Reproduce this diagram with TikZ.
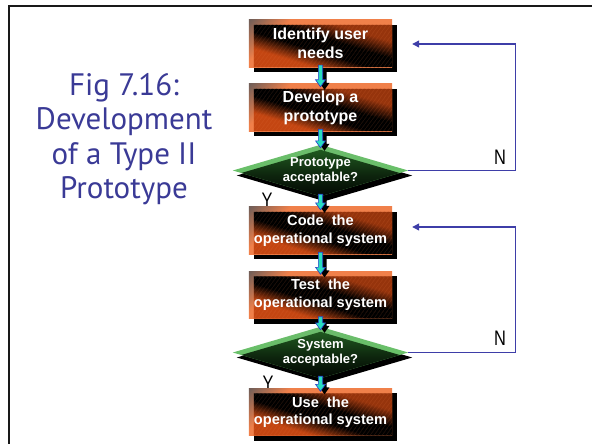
\documentclass[tikz,border=0pt]{standalone}
\usepackage{fontspec}
\setmainfont{Liberation Sans}
\newfontfamily\titlefont{PT Sans}
\usetikzlibrary{calc,arrows.meta,shapes.geometric,backgrounds}

\definecolor{edgeorange}{RGB}{240,128,74}
\definecolor{edgegrey}{RGB}{115,95,88}
\definecolor{faceorangeA}{RGB}{150,52,12}
\definecolor{faceorangeB}{RGB}{196,70,18}
\definecolor{edgegreen}{RGB}{105,192,105}
\definecolor{greengrey}{RGB}{130,140,128}
\definecolor{facegreen}{RGB}{32,90,32}
\definecolor{loopblue}{RGB}{62,62,168}
\definecolor{titleblue}{RGB}{58,58,150}
\definecolor{arrowcyan}{RGB}{40,222,192}
\definecolor{arrowblue}{RGB}{40,60,200}
\definecolor{framegrey}{RGB}{25,25,25}

% light rim that turns greyish toward the top left corner
\pgfdeclareverticalshading{rimdiag}{100bp}{%
  color(0bp)=(edgeorange); color(70bp)=(edgeorange);
  color(85bp)=(edgegrey); color(100bp)=(edgegrey)}

% narrow upright letters for the Y / N labels
\newcommand\narrowtxt[1]{\scalebox{0.78}[1]{#1}}

% 3-D look of a process box: drop shadow, light rim, and a face built from
% thin strips parallel to its diagonal (black along the diagonal, orange off it)
\newcommand\boxdeco[1]{%
  \fill[black] ($(#1.north west)+(5,5)$) rectangle ($(#1.south east)+(5,5)$);
  \shade[shading=rimdiag, shading angle=45] (#1.north west) rectangle (#1.south east);
  \begin{scope}
    \clip ($(#1.north west)+(5,5)$) rectangle (#1.south east);
    \path ($(#1.north west)+(5,5)$) coordinate (ftl) (#1.south east) coordinate (fbr);
    \foreach \k in {-150,-146,...,150} {
      \pgfmathtruncatemacro\mixpct{min(100,max(0,(abs(\k)-25)*100/55))}
      \ifnum\k<0 \def\bandcol{faceorangeB}\else\def\bandcol{faceorangeA}\fi
      \fill[fill=\bandcol!\mixpct!black] ($(ftl)+(\k,0)$) -- ($(fbr)+(\k,0)$)
        -- ($(fbr)+(\k+4.6,0)$) -- ($(ftl)+(\k+4.6,0)$) -- cycle;
    }
  \end{scope}
}
% the same look for a decision diamond
\newcommand\decisiondeco[1]{%
  \fill[black] ($(#1.west)+(4,5)$) -- ($(#1.north)+(4,5)$) -- ($(#1.east)+(4,5)$) -- ($(#1.south)+(4,5)$) -- cycle;
  \begin{scope}
    \clip (#1.west) -- (#1.north) -- (#1.east) -- (#1.south) -- cycle;
    \shade[shift={(#1.center)}, rotate=45,
      top color=greengrey, bottom color=edgegreen, middle color=edgegreen]
      (-200,-200) rectangle (200,200);
    \clip ($(#1.west)+(0,5)$) -- ($(#1.north)+(0,5)$) -- ($(#1.east)+(0,5)$) -- ($(#1.south)+(0,5)$) -- cycle;
    \shade[shift={($(#1.center)+(0,5)$)},
      top color=facegreen, bottom color=black, middle color=black!60!facegreen]
      (-90,-26) rectangle (90,26);
  \end{scope}
}

% small cyan step arrow from the bottom of one shape to the top of the next
\newcommand\stepoutline{($(fs)+(-2.2,0)$) -- ($(fh)+(-2.2,0)$) -- ($(fh)+(-5,0)$) -- (fe)
  -- ($(fh)+(5,0)$) -- ($(fh)+(2.2,0)$) -- ($(fs)+(2.2,0)$) -- cycle}
\newcommand\flowstep[2]{%
  \path (#1.south) ++(0,-2) coordinate (fs);
  \path (#2.north) ++(0,3) coordinate (fe);
  \path (fe) ++(0,-7) coordinate (fh);
  \fill[black, transform canvas={shift={(4pt,-3pt)}}] \stepoutline;
  \filldraw[fill=arrowcyan, draw=arrowblue, line width=0.6pt] \stepoutline;
}

\begin{document}
\begin{tikzpicture}[x=1pt,y=-1pt,
  procbox/.style={
    minimum width=143pt, minimum height=47pt, inner sep=0pt, align=center,
    text=white, font=\bfseries\fontsize{14.6}{18}\selectfont},
  decision/.style={
    shape=diamond, aspect=3.4, minimum width=175pt, minimum height=51pt, inner sep=0pt, align=center,
    text=white, font=\bfseries\fontsize{13}{15}\selectfont},
  loopline/.style={draw=loopblue, line width=1.3pt, -{Triangle[length=7pt,width=7pt]}},
  yn/.style={inner sep=0pt, text=black, font=\fontsize{21}{21}\selectfont},
  titletext/.style={anchor=north, inner sep=0pt, align=center,
    font=\titlefont\fontsize{31}{34.5}\selectfont, text=titleblue}
]
\useasboundingbox (0,0) rectangle (592,444);

% slide frame
\draw[framegrey, line width=2pt] (8.7,444) -- (8.7,6.3) -- (592,6.3);

% caption
\node[titletext] (title) at (124,73) {Fig 7.16:\\Development\\of a Type II\\Prototype};

% flow shapes (their shading goes on the background layer)
\node[procbox, font=\bfseries\fontsize{16}{19}\selectfont] (b1) at (320.5,43.5) {Identify user\\needs};
\node[procbox, font=\bfseries\fontsize{16}{19}\selectfont] (b2) at (320.5,107.5) {Develop a\\prototype};
\node[decision] (d1) at (320.5,170.5) {Prototype\\acceptable?};
\node[procbox] (b3) at (320.5,230.5) {Code\ \ the\\operational system};
\node[procbox] (b4) at (320.5,295) {Test\ \ the\\operational system};
\node[decision] (d2) at (320.5,352.5) {System\\acceptable?};
\node[procbox] (b5) at (320.5,412) {\raisebox{-6pt}{\begin{tabular}{@{}c@{}}Use\ \ the\\[-1pt]operational system\end{tabular}}};

\begin{scope}[on background layer]
  % "yes" labels sit behind the boxes below them
  \node[yn] (y1) at (267,200) {\narrowtxt{Y}};
  \node[yn] (y2) at (268,383) {\narrowtxt{Y}};
  % "no" feedback loops, under the diamond tips
  \coordinate (r1) at ($(b1.east)+(20,0.5)$);
  \coordinate (r2) at ($(b3.east)+(20,-3.5)$);
  \draw[loopline] (d1.east) -- ++(107,0) |- (r1);
  \draw[loopline] (d2.east) -- ++(107,0) |- (r2);
  \boxdeco{b1}
  \boxdeco{b2}
  \decisiondeco{d1}
  \boxdeco{b3}
  \boxdeco{b4}
  \decisiondeco{d2}
  \boxdeco{b5}
\end{scope}

\node[yn] (n1) at (500,157) {\narrowtxt{N}};
\node[yn] (n2) at (500,338) {\narrowtxt{N}};

% step arrows
\flowstep{b1}{b2}
\flowstep{b2}{d1}
\flowstep{d1}{b3}
\flowstep{b3}{b4}
\flowstep{b4}{d2}
\flowstep{d2}{b5}
\end{tikzpicture}
\end{document}
